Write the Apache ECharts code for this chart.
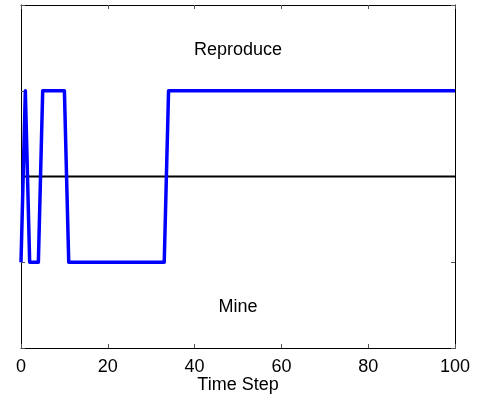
<!doctype html>
<html>
<head>
    <meta charset="utf-8">
    <title>Time Step</title>
    <script src="https://cdn.jsdelivr.net/npm/echarts@6/dist/echarts.min.js"></script>
    <style>
        html, body { margin: 0; padding: 0; background: #fff; }
    </style>
</head>
<body>
    <div id="container" style="width:478px;height:396px;"></div>
    <script type="text/javascript">
        // time steps where the choice changes, and the choice there (1 = Reproduce, -1 = Mine)
        var steps = [0, 1, 2, 4, 5, 10, 11, 33, 34, 100];
        var choice = [-1, 1, -1, -1, 1, 1, -1, -1, 1, 1];
        // zero line
        var zeroX = [0, 100];
        var zeroY = [0, 0];
        // region labels
        var labelNames = ['Reproduce', 'Mine'];
        var labelX = [50, 50];
        var labelY = [1.5, -1.5];
        var xTicks = [0, 20, 40, 60, 80, 100];

        var font = 'Liberation Sans, Arial, Helvetica, sans-serif';

        var lineData = steps.map(function (s, i) { return [s, choice[i]]; });
        var zeroData = zeroX.map(function (s, i) { return [s, zeroY[i]]; });
        var textData = labelNames.map(function (n, i) {
            return { name: n, value: [labelX[i], labelY[i]] };
        });

        var axisCommon = {
            type: 'value',
            axisLine: { show: true, onZero: false, lineStyle: { color: '#000', width: 1 } },
            axisTick: { show: true, inside: true, length: 4, lineStyle: { color: '#555', width: 1 } },
            splitLine: { show: false }
        };

        var option = {
            animation: false,
            grid: { left: 21, right: 23, top: 5, bottom: 48, containLabel: false, outerBoundsMode: 'none' },
            xAxis: [
                Object.assign({}, axisCommon, {
                    position: 'bottom',
                    min: 0, max: 100, interval: 20,
                    name: 'Time Step',
                    nameLocation: 'middle',
                    nameGap: 28,
                    nameMoveOverlap: false,
                    nameTextStyle: { color: '#000', fontSize: 18, fontFamily: font },
                    axisLabel: {
                        show: true, margin: 10, color: '#000', fontSize: 18, fontFamily: font,
                        customValues: xTicks
                    }
                }),
                Object.assign({}, axisCommon, {
                    position: 'top',
                    min: 0, max: 100, interval: 20,
                    axisLabel: { show: false }
                })
            ],
            yAxis: [
                Object.assign({}, axisCommon, {
                    position: 'left',
                    min: -2, max: 2, interval: 1,
                    axisLabel: { show: false }
                }),
                Object.assign({}, axisCommon, {
                    position: 'right',
                    min: -2, max: 2, interval: 1,
                    axisLabel: { show: false }
                })
            ],
            series: [
                {
                    type: 'line',
                    data: zeroData,
                    symbol: 'none',
                    lineStyle: { color: '#000', width: 2 },
                    z: 2
                },
                {
                    type: 'line',
                    data: lineData,
                    symbol: 'none',
                    lineStyle: { color: '#0000ff', width: 3.5, join: 'round' },
                    z: 3
                },
                {
                    type: 'scatter',
                    data: textData,
                    symbolSize: 0,
                    itemStyle: { opacity: 1 },
                    label: {
                        show: true,
                        position: 'inside',
                        offset: [0, 2],
                        formatter: '{b}',
                        color: '#000',
                        opacity: 1,
                        fontSize: 18,
                        fontFamily: font
                    },
                    z: 4
                }
            ]
        };

        var myChart = echarts.init(document.getElementById('container'));
        myChart.setOption(option);
    </script>
</body>
</html>
